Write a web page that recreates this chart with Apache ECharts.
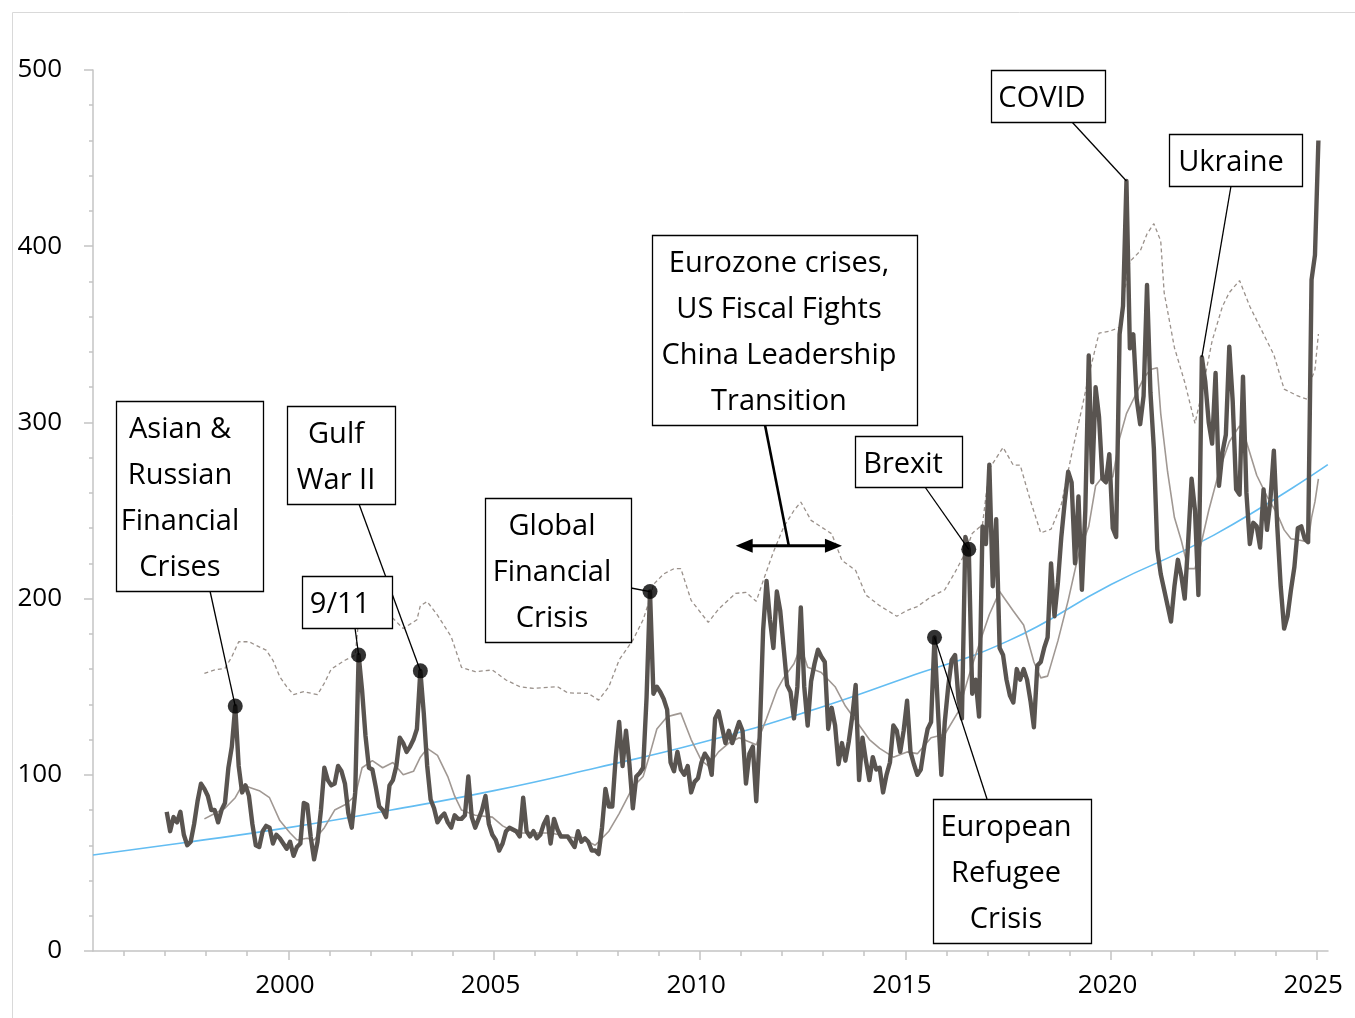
<!DOCTYPE html>
<html><head><meta charset="utf-8">
<script src="https://cdn.jsdelivr.net/npm/echarts@6/dist/echarts.min.js"></script>
<style>html,body{margin:0;padding:0;background:#fff}#c{width:1355px;height:1018px}</style>
</head><body><div id="c"></div>
<script>
// ---------------- DATA ----------------
const epuStart = '1997-01';
// Monthly index (thick dark line), Jan 1997 .. Jan 2025
const epu = [
  79, 68, 76, 73, 79, 66, 60, 62, 72, 85, 95, 92,        // 1997
  88, 80, 80, 73, 80, 84, 104, 116, 139, 105, 90, 94,    // 1998
  88, 72, 60, 59, 68, 71, 70, 61, 66, 64, 61, 58,        // 1999
  62, 54, 59, 61, 84, 83, 65, 52, 62, 80, 104, 97,       // 2000
  94, 95, 105, 102, 95, 78, 70, 90, 168, 148, 122, 104,  // 2001
  103, 93, 82, 80, 76, 94, 97, 105, 121, 118, 113, 116,  // 2002
  120, 126, 159, 135, 105, 86, 81, 73, 76, 78, 73, 70,   // 2003
  77, 75, 75, 77, 99, 76, 70, 75, 80, 88, 72, 66,        // 2004
  63, 57, 61, 68, 70, 69, 68, 65, 87, 68, 65, 68,        // 2005
  64, 66, 72, 76, 61, 75, 69, 65, 65, 65, 62, 59,        // 2006
  68, 62, 64, 62, 57, 57, 55, 70, 92, 82, 82, 110,       // 2007
  130, 105, 125, 106, 81, 99, 101, 104, 144, 204, 146, 150, // 2008
  147, 143, 137, 107, 102, 113, 103, 100, 105, 90, 96, 98,  // 2009
  107, 112, 109, 100, 132, 136, 127, 118, 125, 118, 124, 130, // 2010
  125, 95, 112, 116, 85, 122, 182, 210, 188, 172, 204, 193,   // 2011
  172, 151, 147, 132, 150, 195, 150, 128, 153, 163, 171, 167, // 2012
  164, 126, 138, 128, 106, 118, 108, 119, 133, 151, 97, 121,  // 2013
  108, 97, 110, 103, 104, 90, 100, 107, 128, 125, 113, 125,   // 2014
  142, 113, 106, 100, 103, 116, 126, 130, 178, 137, 100, 130, // 2015
  150, 165, 168, 143, 132, 235, 228, 146, 154, 133, 241, 231, // 2016
  276, 207, 245, 172, 168, 154, 145, 141, 160, 154, 160, 154, // 2017
  142, 127, 162, 164, 172, 178, 220, 190, 209, 235, 255, 272, // 2018
  266, 220, 258, 205, 250, 338, 266, 320, 303, 268, 266, 282, // 2019
  240, 235, 350, 366, 437, 342, 350, 313, 299, 315, 378, 317, // 2020
  285, 228, 214, 205, 196, 187, 207, 222, 213, 200, 232, 268, // 2021
  250, 202, 337, 323, 300, 288, 328, 264, 283, 293, 343, 312, // 2022
  262, 259, 326, 260, 231, 243, 241, 229, 262, 239, 256, 284, // 2023
  241, 207, 183, 190, 205, 218, 240, 241, 234, 232, 381, 395, // 2024
  460                                                         // 2025
];

// Thin grey line (moving average)
const movingAvg = [
  ['1997-12',75],['1998-03',78],['1998-06',81],['1998-09',87],['1998-11',94],['1999-01',93],
  ['1999-04',91],['1999-07',87],['1999-10',74],['2000-01',67],['2000-03',63],['2000-06',64],
  ['2000-08',63],['2000-11',70],['2001-02',80],['2001-05',83],['2001-08',88],['2001-09',96],
  ['2001-10',104],['2002-01',108],['2002-04',104],['2002-07',107],['2002-10',100],['2003-01',102],
  ['2003-03',110],['2003-05',115],['2003-08',111],['2003-11',99],['2004-01',88],['2004-03',80],
  ['2004-07',77],['2004-12',76],['2005-03',71],['2005-07',67],['2005-12',67],['2006-05',67],
  ['2006-10',65],['2007-03',63],['2007-06',60],['2007-10',68],['2008-01',78],['2008-05',93],
  ['2008-08',99],['2008-10',112],['2008-12',126],['2009-03',133],['2009-05',134],['2009-07',135],
  ['2009-10',120],['2010-01',108],['2010-03',105],['2010-06',113],['2010-09',118],['2010-12',121],
  ['2011-05',117],['2011-08',132],['2011-11',148],['2012-01',155],['2012-04',163],['2012-06',173],
  ['2012-08',161],['2012-12',158],['2013-04',150],['2013-07',139],['2013-10',131],['2014-02',120],
  ['2014-05',115],['2014-09',110],['2015-01',113],['2015-04',112],['2015-08',121],['2015-12',123],
  ['2016-04',136],['2016-07',156],['2016-10',174],['2017-01',191],['2017-04',204],['2017-08',193],
  ['2017-11',185],['2018-02',164],['2018-04',155],['2018-06',156],['2018-09',176],['2018-12',199],
  ['2019-03',225],['2019-06',241],['2019-08',264],['2019-10',269],['2020-01',269],['2020-03',291],
  ['2020-05',305],['2020-07',313],['2020-10',325],['2020-12',330],['2021-02',331],['2021-03',305],
  ['2021-05',272],['2021-07',246],['2021-09',233],['2021-11',217],['2022-01',217],['2022-03',233],
  ['2022-05',250],['2022-08',272],['2022-11',289],['2023-02',298],['2023-04',289],['2023-07',270],
  ['2023-10',258],['2024-01',248],['2024-03',239],['2024-05',234],['2024-08',233],['2024-10',232],
  ['2024-11',246],['2024-12',255],['2025-01',268]
];

// Dashed grey line (upper band)
const upperBand = [
  ['1997-12',157.6],['1998-03',159.5],['1998-06',160.4],['1998-08',167],['1998-10',175.5],['1999-01',175.5],
  ['1999-04',172.6],['1999-06',170.8],['1999-08',165],['1999-10',155.6],['1999-12',150],['2000-02',145.5],
  ['2000-05',147.2],['2000-09',145.5],['2000-11',152],['2001-01',160],['2001-05',165],['2001-08',168],
  ['2001-09',188],['2002-01',189.7],['2002-04',186],['2002-07',188.8],['2002-10',183],['2003-02',188],
  ['2003-03',196],['2003-05',198.3],['2003-08',190.6],['2003-12',178.4],['2004-03',161],['2004-07',158.5],
  ['2004-12',159.5],['2005-04',153.8],['2005-08',150],['2005-12',149],['2006-07',150],['2006-10',146.5],
  ['2007-04',146.2],['2007-07',142.4],['2007-10',150],['2008-01',165.2],['2008-05',176.4],['2008-08',188],
  ['2008-10',200],['2008-11',208],['2009-02',214],['2009-05',217],['2009-07',217],['2009-10',199],
  ['2010-03',186.5],['2010-06',194],['2010-11',203],['2011-02',203.5],['2011-05',198.5],['2011-07',210],
  ['2011-10',226.5],['2012-01',240.6],['2012-04',250],['2012-06',254.8],['2012-09',244.4],['2013-03',236.8],
  ['2013-06',221.7],['2013-10',216],['2014-01',202],['2014-05',196],['2014-10',190],['2015-01',193.3],
  ['2015-04',195.5],['2015-08',201],['2015-12',205],['2016-03',215],['2016-06',226],['2016-08',237],
  ['2016-11',242],['2017-01',273.7],['2017-05',285.8],['2017-08',275.7],['2017-10',275.7],['2018-01',255.5],
  ['2018-04',237.3],['2018-07',239.4],['2018-10',253.5],['2019-01',281.8],['2019-04',308],['2019-06',326.5],
  ['2019-09',350.7],['2019-12',351.7],['2020-03',354],['2020-04',369.8],['2020-06',391.3],['2020-09',397.2],
  ['2020-11',407],['2021-01',412.8],['2021-03',403],['2021-04',373.7],['2021-07',342.4],['2021-10',322.8],
  ['2022-01',299.4],['2022-03',317],['2022-06',346.3],['2022-09',365.8],['2022-11',373.7],['2023-02',380.5],
  ['2023-05',365.8],['2023-08',354],['2023-12',338.4],['2024-03',318.9],['2024-07',315],['2024-10',313],
  ['2024-11',324.8],['2024-12',330],['2025-01',350.2]
];

// Light-blue trend line, read at a few dates
const trendYears  = [1995.25, 1997.5, 2000, 2002.5, 2005, 2007.5, 2010, 2012.5, 2015, 2017.5, 2020, 2022.5, 2025.27];
const trendValues = [54.5, 61.6, 70, 80, 91, 104, 118, 135, 155, 176, 208, 236, 276];

// Axis ticks / labels
const yearLabels = [2000, 2005, 2010, 2015, 2020, 2025];
const yearTicks = [1996,1997,1998,1999,2000,2001,2002,2003,2004,2005,2006,2007,2008,2009,2010,2011,2012,2013,2014,2015,2016,2017,2018,2019,2020,2021,2022,2023,2024,2025];

// Annotated events
const events = [
  {lines:['Asian &','Russian','Financial','Crises'], month:'1998-09', dot:true},
  {lines:['9/11'], month:'2001-09', dot:true},
  {lines:['Gulf','War II'], month:'2003-03', dot:true},
  {lines:['Global','Financial','Crisis'], month:'2008-10', dot:true},
  {lines:['European','Refugee','Crisis'], month:'2015-09', dot:true},
  {lines:['Brexit'], month:'2016-07', dot:true},
  {lines:['COVID'], month:'2020-05', dot:false},
  {lines:['Ukraine'], month:'2022-03', dot:false}
];
const eurozone = {lines:['Eurozone crises,','US Fiscal Fights','China Leadership','Transition'], from:'2010-11', to:'2013-06', level:230};

// ---------------- LAYOUT (pixels) ----------------
const boxLayout = [
  {x:116, y:401, w:147, h:190, tx:180, ax:210, ay:591},
  {x:302, y:576, w:90,  h:52,  tx:340, ax:355, ay:628},
  {x:287, y:406, w:108, h:98,  tx:336, ax:359, ay:504},
  {x:485, y:498, w:146, h:144, tx:552, ax:631, ay:588},
  {x:933, y:799, w:158, h:144, tx:1006, ax:987, ay:799},
  {x:855, y:436, w:107, h:51,  tx:903, ax:925, ay:487},
  {x:991, y:70,  w:114, h:52,  tx:1042, ax:1072, ay:122},
  {x:1169,y:134, w:133, h:52,  tx:1231, ax:1231, ay:186}
];
const euroLayout = {x:652, y:235, w:265, h:190, tx:779, ax:765, ay:425};

// ---------------- HELPERS ----------------
// monthly observations are placed at mid-month on the date axis
function ym(s){ const p = s.split('-').map(Number); return p[0] + (p[1]-0.5)/12; }
const startY = ym(epuStart);
const mainData = epu.map((v,i) => [startY + i/12, v]);
function valueAt(month){ const idx = Math.round((ym(month) - startY)*12); return epu[idx]; }
const FONT = '"Open Sans", "Noto Sans", sans-serif';
const AX = '#c4c4c4';

const chart = echarts.init(document.getElementById('c'));
const option = {
  animation:false,
  backgroundColor:'#fff',
  grid:{left:93, top:70, right:27, bottom:67, containLabel:false},
  xAxis:[
    {type:'value', min:1995.25, max:2025.275,
     axisLine:{show:true, lineStyle:{color:AX, width:1.5}},
     axisTick:{show:true, customValues:yearLabels, length:9, lineStyle:{color:AX, width:1.5}},
     axisLabel:{customValues:yearLabels, fontSize:26, fontFamily:FONT, color:'#000', margin:22,
                padding:[0,7,0,0], formatter:v => String(Math.round(v))},
     splitLine:{show:false}},
    {type:'value', min:1995.25, max:2025.275, position:'bottom',
     axisLine:{show:false},
     axisTick:{show:true, customValues:yearTicks, length:5, lineStyle:{color:AX, width:1.5}},
     axisLabel:{show:false}, splitLine:{show:false}}
  ],
  yAxis:[
    {type:'value', min:0, max:500, interval:100,
     axisLine:{show:true, lineStyle:{color:AX, width:1.5}},
     axisTick:{show:true, length:9, lineStyle:{color:AX, width:1.5}},
     axisLabel:{fontSize:26, fontFamily:FONT, color:'#000', margin:31, padding:[8,0,0,0]},
     splitLine:{show:false}},
    {type:'value', min:0, max:500, interval:20, position:'left',
     axisLine:{show:false},
     axisTick:{show:true, length:4, lineStyle:{color:AX, width:1.5}},
     axisLabel:{show:false}, splitLine:{show:false}}
  ],
  series:[
    {name:'trend', type:'line', smooth:true, symbol:'none',
     data: trendYears.map((y,i)=>[y, trendValues[i]]),
     lineStyle:{color:'#63bdf2', width:1.6}, z:2},
    {name:'upper', type:'line', symbol:'none',
     data: upperBand.map(d=>[ym(d[0]), d[1]]),
     lineStyle:{color:'#9a918b', width:1.3, type:[4,3]}, z:3},
    {name:'ma', type:'line', symbol:'none',
     data: movingAvg.map(d=>[ym(d[0]), d[1]]),
     lineStyle:{color:'#a09893', width:1.6}, z:4},
    {name:'epu', type:'line', symbol:'none', data: mainData,
     lineStyle:{color:'#595450', width:4.4, join:'round'}, z:5},
    {name:'dots', type:'scatter', symbol:'circle', symbolSize:15,
     data: events.filter(e=>e.dot).map(e=>[ym(e.month), valueAt(e.month)]),
     itemStyle:{color:'#000'}, z:10}
  ]
};
chart.setOption(option);

// ---------------- ANNOTATIONS ----------------
function px(x, y){ return chart.convertToPixel({xAxisIndex:0, yAxisIndex:0}, [x, y]); }
const g = [];
// outer frame (left + top)
g.push({type:'line', shape:{x1:12.5, y1:12.5, x2:1355, y2:12.5}, style:{stroke:'#d9d9d9', lineWidth:1}, z:1});
g.push({type:'line', shape:{x1:12.5, y1:12.5, x2:12.5, y2:1018}, style:{stroke:'#d9d9d9', lineWidth:1}, z:1});

function addBox(lay, lines){
  g.push({type:'rect', shape:{x:lay.x+0.5, y:lay.y+0.5, width:lay.w, height:lay.h},
          style:{fill:'#fff', stroke:'#000', lineWidth:1.3}, z:50});
  lines.forEach((t,i)=>{
    g.push({type:'text', x:lay.tx, y:lay.y + 29 + 46*i, z:51,
      style:{text:t, fill:'#000', fontSize:29, fontFamily:FONT,
             align:'center', verticalAlign:'middle', textAlign:'center', textVerticalAlign:'middle'}});
  });
}
events.forEach((e,i)=>{
  const lay = boxLayout[i];
  const p = px(ym(e.month), valueAt(e.month));
  g.push({type:'line', shape:{x1:lay.ax, y1:lay.ay, x2:p[0], y2:p[1]}, style:{stroke:'#000', lineWidth:1.3}, z:40});
  addBox(lay, e.lines);
});
// Eurozone arrow
const a1 = px(ym(eurozone.from), eurozone.level);
const a2 = px(ym(eurozone.to), eurozone.level);
const mid = [(a1[0]+a2[0])/2, a1[1]];
g.push({type:'line', shape:{x1:euroLayout.ax, y1:euroLayout.ay, x2:mid[0], y2:mid[1]}, style:{stroke:'#000', lineWidth:2.6}, z:40});
g.push({type:'line', shape:{x1:a1[0]+10, y1:a1[1], x2:a2[0]-10, y2:a2[1]}, style:{stroke:'#000', lineWidth:3}, z:40});
g.push({type:'polygon', shape:{points:[[a1[0], a1[1]], [a1[0]+17, a1[1]-7], [a1[0]+17, a1[1]+7]]}, style:{fill:'#000'}, z:40});
g.push({type:'polygon', shape:{points:[[a2[0], a2[1]], [a2[0]-17, a2[1]-7], [a2[0]-17, a2[1]+7]]}, style:{fill:'#000'}, z:40});
addBox(euroLayout, eurozone.lines);

chart.setOption({graphic: g});
</script>
</body></html>
